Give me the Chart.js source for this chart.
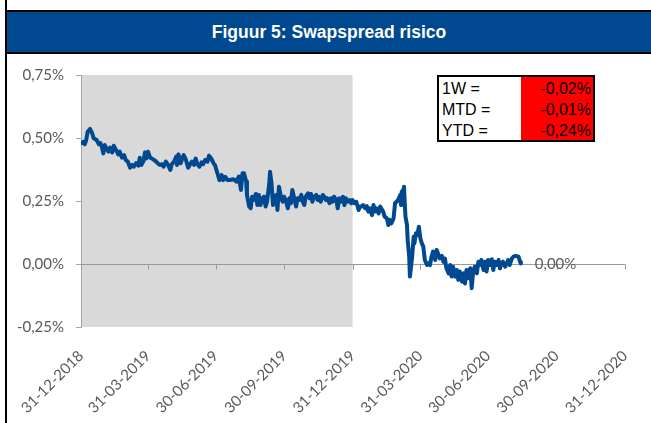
<!DOCTYPE html>
<html>
<head>
<meta charset="utf-8">
<script src="https://cdn.jsdelivr.net/npm/chart.js@4.4.1/dist/chart.umd.min.js"></script>
<style>
  body { margin: 0; background: #fff; }
  #wrap { position: relative; width: 651px; height: 423px; overflow: hidden; background: #fff; }
  #grafiek { position: absolute; left: 0; top: 0; }
  .lijn { position: absolute; background: #000; }
  #titel {
    position: absolute; left: 7px; top: 12px; width: 644px; height: 40px;
    background: #004990; color: #fff; text-align: center;
    font: bold 17.5px "Liberation Sans", Arial, sans-serif;
    line-height: 40px;
  }
  #tabel {
    position: absolute; left: 437px; top: 75px; width: 158px; height: 67px;
    border: 2px solid #000; box-sizing: border-box; background: #fff;
    font: 16px "Liberation Sans", Arial, sans-serif; color: #000;
  }
  #tabel .rood { position: absolute; left: 82px; top: 0; right: 0; bottom: 0; background: #ff0000; }
  #tabel .rij { position: absolute; left: 0; right: 0; height: 21px; line-height: 21px; }
  #tabel .lbl { position: absolute; left: 3px; }
  #tabel .val { position: absolute; right: 2px; }
</style>
</head>
<body>
<div id="wrap">
  <canvas id="grafiek" width="651" height="423"></canvas>
  <div class="lijn" style="left:5px;top:0;width:2px;height:423px"></div>
  <div class="lijn" style="left:5px;top:10px;width:646px;height:2px"></div>
  <div id="titel">Figuur 5: Swapspread risico</div>
  <div class="lijn" style="left:5px;top:52px;width:646px;height:2px"></div>
  <div id="tabel"></div>
</div>
<script>
// dagen sinds 31-12-2018 en swapspread in %
const dagen1 = [0,3,5,7,9,12,15,17,21,24,26,28,30,32,34,37,39,42,44,47,50,52,55,58,60,63,66,69,71,74,77,79,81,84,86,88,90,93,95,98,101,103,106,109,111,114,117,120,122,125,128,129,131,134,137,138,141,144,146,149,152,154,156,159,162,164,167,170,172,175,178,180,182,184,186,189,191,194,197];
const spread1 = [0.479,0.485,0.475,0.492,0.525,0.536,0.519,0.499,0.492,0.475,0.48,0.466,0.439,0.472,0.459,0.446,0.462,0.443,0.469,0.453,0.435,0.446,0.422,0.432,0.413,0.406,0.382,0.393,0.386,0.40,0.39,0.422,0.393,0.409,0.443,0.419,0.446,0.422,0.419,0.413,0.406,0.40,0.393,0.396,0.386,0.406,0.393,0.373,0.396,0.406,0.426,0.393,0.435,0.40,0.426,0.432,0.413,0.382,0.393,0.406,0.393,0.419,0.40,0.386,0.403,0.396,0.413,0.406,0.43,0.419,0.40,0.393,0.373,0.353,0.333,0.353,0.333,0.346,0.333];
const dagen2 = [200,205,209,212,215,217,219,222,223,226,228,230,232,235,237,239,241,244,246,248,250,253,254,256,258,260,262,264,266,269,271,273,275,278,280,282,284,287,289,291,293,296,298,300,302,305,307,309,311,313,316,318,320,322,325,327,329,331,334,336,338,340,343,345,347,349,352,354,356,358,361,363,365,367,370,373,375];
const spread2 = [0.333,0.336,0.327,0.347,0.294,0.36,0.36,0.327,0.274,0.228,0.221,0.267,0.254,0.278,0.234,0.274,0.234,0.261,0.267,0.228,0.247,0.32,0.366,0.32,0.234,0.247,0.274,0.214,0.307,0.261,0.247,0.267,0.254,0.221,0.261,0.241,0.294,0.254,0.228,0.261,0.254,0.274,0.247,0.234,0.267,0.28,0.261,0.278,0.247,0.267,0.274,0.254,0.267,0.247,0.274,0.267,0.254,0.261,0.241,0.261,0.247,0.267,0.254,0.221,0.261,0.247,0.267,0.234,0.261,0.247,0.254,0.241,0.254,0.241,0.247,0.214,0.228];
const dagen3 = [377,379,382,384,386,388,391,393,395,397,400,402,404,406,408,411,413,415,417,420,422,424,426,429,430,431,433,434,436,438,439,441,442,443,445,447,448,450,452,454,456,458,460,462,465,467,469,471,473,476,478];
const spread3 = [0.228,0.234,0.221,0.23,0.208,0.221,0.194,0.234,0.208,0.221,0.201,0.228,0.218,0.208,0.188,0.181,0.155,0.175,0.161,0.181,0.241,0.247,0.254,0.274,0.234,0.287,0.294,0.307,0.188,0.155,0.095,0.029,-0.05,-0.024,0.029,0.108,0.082,0.122,0.115,0.148,0.102,0.082,0.069,0.016,-0.004,0.002,-0.004,0.029,0.049,0.016,0.056];
const dagen4 = [482,485,487,489,491,494,496,498,500,503,505,507,509,512,514,516,518,520,523,525,527,529,532,534,536,538,541,543,545,547,550,552,554,556,559,561,563,565,567,570,572,574,576,579,581,584,588,590,591];
const spread4 = [0.022,0.032,0.009,0.022,-0.017,-0.037,-0.004,-0.05,-0.011,-0.05,-0.024,-0.063,-0.03,-0.07,-0.037,-0.077,-0.024,-0.056,-0.017,-0.096,-0.03,-0.011,-0.037,0.009,-0.004,0.016,-0.024,0.009,-0.03,0.016,-0.004,0.019,-0.024,0.009,-0.004,0.016,-0.017,0.002,0.009,-0.011,0.002,0.016,-0.004,0.022,0.029,0.032,0.029,0.009,0.002];

const tickDagen = [0,90,181,273,365,456,547,639,731];
const tickLabels = ['31-12-2018','31-03-2019','30-06-2019','30-09-2019','31-12-2019','31-03-2020','30-06-2020','30-09-2020','31-12-2020'];
const yTicks = [-0.25, 0, 0.25, 0.5, 0.75];

// grijs vlak = 2019
const schaduwVan = 0;
const schaduwTot = 365;

const tabelLabels = ['1W =', 'MTD =', 'YTD ='];
const tabelWaarden = ['-0,02%', '-0,01%', '-0,24%'];

const dagen = [...dagen1, ...dagen2, ...dagen3, ...dagen4];
const spread = [...spread1, ...spread2, ...spread3, ...spread4];

const pct = v => v.toFixed(2).replace('.', ',') + '%';

// tabel rechtsboven
const tabel = document.getElementById('tabel');
tabel.innerHTML = '<div class="rood"></div>' + tabelLabels.map((l, i) =>
  `<div class="rij" style="top:${i * 21 + 1}px"><span class="lbl">${l}</span><span class="val">${tabelWaarden[i]}</span></div>`
).join('');

const grijsVlak = {
  id: 'grijsVlak',
  beforeDraw(chart) {
    const { ctx, chartArea, scales } = chart;
    const x0 = scales.x.getPixelForValue(schaduwVan);
    const x1 = scales.x.getPixelForValue(schaduwTot);
    ctx.save();
    ctx.fillStyle = '#d9d9d9';
    ctx.fillRect(x0, chartArea.top, x1 - x0, chartArea.bottom - chartArea.top);
    ctx.restore();
  }
};

// streepjes op de nullijn
const nulTicks = {
  id: 'nulTicks',
  beforeDatasetsDraw(chart) {
    const { ctx, scales } = chart;
    const y0 = Math.round(scales.y.getPixelForValue(0)) + 0.5;
    ctx.save();
    ctx.strokeStyle = '#999999';
    ctx.lineWidth = 1;
    ctx.beginPath();
    tickDagen.forEach(d => {
      const x = Math.round(scales.x.getPixelForValue(d)) + 0.5;
      ctx.moveTo(x, y0);
      ctx.lineTo(x, y0 + 5);
    });
    ctx.stroke();
    ctx.restore();
  }
};

const eindLabel = {
  id: 'eindLabel',
  afterDatasetsDraw(chart) {
    const meta = chart.getDatasetMeta(0);
    const p = meta.data[meta.data.length - 1];
    const ctx = chart.ctx;
    ctx.save();
    ctx.font = '15px Lato';
    ctx.fillStyle = '#595959';
    ctx.textAlign = 'left';
    ctx.textBaseline = 'middle';
    ctx.fillText(pct(spread[spread.length - 1]), p.x + 14, p.y + 1);
    ctx.restore();
  }
};

Chart.defaults.font.family = 'Lato';
Chart.defaults.font.size = 15;
Chart.defaults.color = '#595959';

new Chart(document.getElementById('grafiek'), {
  type: 'line',
  data: {
    datasets: [{
      data: dagen.map((d, i) => ({ x: d, y: spread[i] })),
      borderColor: '#004990',
      borderWidth: 4,
      borderJoinStyle: 'round',
      borderCapStyle: 'round',
      pointRadius: 0,
      tension: 0,
      fill: false
    }]
  },
  options: {
    responsive: false,
    animation: false,
    devicePixelRatio: 1,
    layout: { padding: { top: 75, right: 26, left: 0, bottom: 0 } },
    plugins: { legend: { display: false }, tooltip: { enabled: false } },
    scales: {
      x: {
        type: 'linear',
        min: 0,
        max: 731,
        afterBuildTicks: s => { s.ticks = tickDagen.map(v => ({ value: v })); },
        afterFit: s => { s.height = 96; },
        grid: { display: false },
        border: { display: false },
        ticks: {
          autoSkip: false,
          minRotation: 45,
          maxRotation: 45,
          padding: 12,
          callback: v => tickLabels[tickDagen.indexOf(v)]
        }
      },
      y: {
        min: -0.25,
        max: 0.75,
        afterBuildTicks: s => { s.ticks = yTicks.map(v => ({ value: v })); },
        afterFit: s => { s.width = 81; },
        grid: {
          color: c => (c.tick && c.tick.value === 0 ? '#999999' : 'rgba(0,0,0,0)'),
          tickColor: '#a6a6a6',
          tickLength: 5
        },
        border: { color: '#a6a6a6' },
        ticks: { padding: 12, callback: v => pct(v) }
      }
    }
  },
  plugins: [grijsVlak, nulTicks, eindLabel]
});
</script>
</body>
</html>
